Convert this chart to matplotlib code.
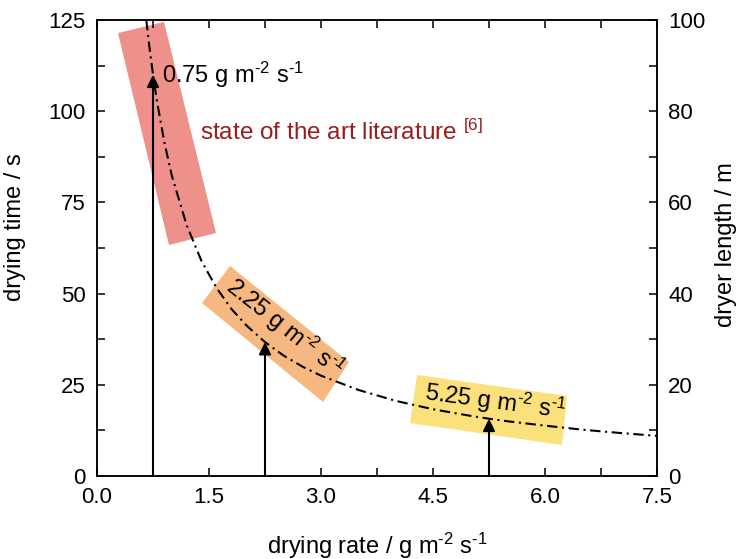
import numpy as np
import matplotlib
matplotlib.use("Agg")
import matplotlib.pyplot as plt
from matplotlib.patches import Polygon
from matplotlib.ticker import MultipleLocator

plt.rcParams['font.family'] = ['Liberation Sans', 'DejaVu Sans']
plt.rcParams['mathtext.fontset'] = 'custom'
plt.rcParams['mathtext.rm'] = 'Liberation Sans'
plt.rcParams['mathtext.it'] = 'Liberation Sans:italic'
plt.rcParams['mathtext.bf'] = 'Liberation Sans:bold'

###############################################################################
# Data
###############################################################################
# drying time vs drying rate (constant amount of solvent to remove)
rate = [0.66, 0.70, 0.75, 0.80, 0.90, 1.0, 1.2, 1.4, 1.6, 1.8, 2.0, 2.25,
        2.5, 2.75, 3.0, 3.5, 4.0, 4.5, 5.0, 5.25, 5.5, 6.0, 6.5, 7.0, 7.5]
dryTime = [125.0, 117.9, 110.0, 103.1, 91.7, 82.5, 68.8, 58.9, 51.6, 45.8,
           41.3, 36.7, 33.0, 30.0, 27.5, 23.6, 20.6, 18.3, 16.5, 15.7, 15.0,
           13.8, 12.7, 11.8, 11.0]

# highlighted operating points
markRate = [0.75, 2.25, 5.25]
markTime = [110.0, 36.7, 15.7]

xTicks = [0.0, 1.5, 3.0, 4.5, 6.0, 7.5]
yTicks = [0, 25, 50, 75, 100, 125]
y2Ticks = [0, 20, 40, 60, 80, 100]

###############################################################################
# Figure
###############################################################################
W, H = 741, 559
fig = plt.figure(figsize=(W / 100, H / 100), dpi=100)
ax = fig.add_axes([97 / W, 1 - 476 / H, 560 / W, 456 / H])

def px(pts):
    #pixel coords (origin top left) -> figure fraction
    return [(x / W, 1 - y / H) for x, y in pts]

FS = 17
UNIT = r' g m$^{\text{-}2}$ s$^{\text{-}1}$'

# shaded boxes behind the points
boxes = [([(118, 33), (164, 22), (216, 233), (169, 245)], '#ee918a'),
         ([(230, 266), (349, 362), (323, 402), (202, 303)], '#f6b880'),
         ([(417, 375), (567, 396), (562, 445), (410, 423)], '#fbe07c')]
for pts, col in boxes:
    ax.add_patch(Polygon(px(pts), closed=True, transform=fig.transFigure,
                         facecolor=col, edgecolor='none', zorder=1,
                         clip_on=False))

ax.plot(rate, dryTime, color='black', linewidth=1.5,
        linestyle=(0, (5, 2.2, 1, 2.2)), zorder=3)

for r, t in zip(markRate, markTime):
    ax.annotate('', xy=(r, t), xytext=(r, 0),
                arrowprops=dict(arrowstyle='-|>', color='black', lw=1.5,
                                mutation_scale=18, shrinkA=0, shrinkB=0),
                zorder=4)

labels = ['%.2f' % r + UNIT for r in markRate]
ax.text(162 / W, 1 - 75 / H, labels[0], transform=fig.transFigure,
        fontsize=FS, ha='left', va='center', zorder=5)
ax.text(285 / W, 1 - 327 / H, labels[1], transform=fig.transFigure,
        fontsize=FS, ha='center', va='center', rotation=-38.5,
        rotation_mode='anchor', zorder=5)
ax.text(495 / W, 1 - 401 / H, labels[2], transform=fig.transFigure,
        fontsize=FS, ha='center', va='center', rotation=-7.6,
        rotation_mode='anchor', zorder=5)

ax.text(200 / W, 1 - 132 / H,
        r'state of the art literature $^{\mathregular{[6]}}$',
        transform=fig.transFigure, fontsize=17.5, color='#9b1c1c',
        ha='left', va='center', zorder=5)

###############################################################################
# Axes
###############################################################################
ax.set_xlim(0, 7.5)
ax.set_ylim(0, 125)
ax.set_xticks(xTicks)
ax.set_xticklabels(['%.1f' % x for x in xTicks])
ax.set_yticks(yTicks)
ax.xaxis.set_minor_locator(MultipleLocator(0.75))
ax.yaxis.set_minor_locator(MultipleLocator(12.5))
ax.tick_params(which='both', direction='in', length=6, width=1.1,
               top=True, right=False, labelsize=16, pad=8)
ax.set_xlabel('drying rate /' + UNIT, fontsize=FS, labelpad=16)
ax.set_ylabel('drying time / s', fontsize=FS)
ax.yaxis.set_label_coords(-0.127, 0.546)

ax2 = ax.twinx()
ax2.set_ylim(0, 100)
ax2.set_yticks(y2Ticks)
ax2.yaxis.set_minor_locator(MultipleLocator(10))
ax2.tick_params(which='both', direction='in', length=6, width=1.1,
                labelsize=16, pad=8)
ax2.set_ylabel('dryer length / m', fontsize=FS)
ax2.yaxis.set_label_coords(1.103, 0.507)

for a in (ax, ax2):
    for s in a.spines.values():
        s.set_linewidth(1.1)

fig.savefig('out.png', dpi=100)
